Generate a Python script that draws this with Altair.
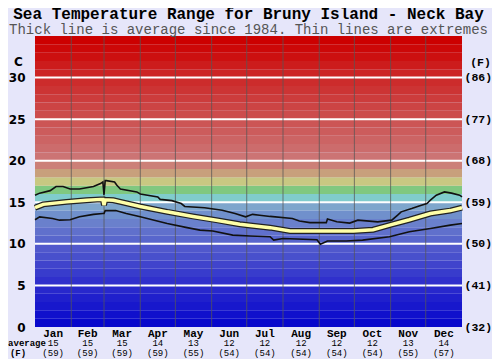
import altair as alt
import pandas as pd

# ---------------- data ----------------
months = ["Jan", "Feb", "Mar", "Apr", "May", "Jun", "Jul", "Aug", "Sep", "Oct", "Nov", "Dec"]
month_starts = [0, 31, 59, 90, 120, 151, 181, 212, 243, 273, 304, 334, 365]
avg_c_labels = ["15", "15", "15", "14", "13", "12", "12", "12", "12", "12", "13", "14"]
avg_f_labels = ["(59)", "(59)", "(59)", "(59)", "(55)", "(54)", "(54)", "(54)", "(54)", "(54)", "(55)", "(57)"]

max_day = [0, 4, 13, 18, 24, 30, 38, 50, 56, 58, 59, 60, 61, 68, 70, 73, 87, 90, 105, 107,
           117, 125, 128, 145, 160, 171, 180, 186, 192, 201, 220, 226, 235, 249, 250, 258,
           269, 276, 293, 305, 310, 313, 322, 327, 335, 338, 343, 350, 356, 363, 365]
max_temp = [15.85, 16.1, 16.4, 16.9, 16.9, 16.6, 16.6, 16.9, 17.25, 17.45, 15.9, 17.6, 17.6,
            17.45, 17.05, 16.6, 16.25, 16.0, 15.65, 15.35, 15.2, 14.85, 14.5, 14.35, 14.05,
            13.65, 13.25, 13.55, 13.45, 13.3, 13.05, 12.75, 12.55, 12.55, 13.0, 12.65, 12.5,
            12.85, 12.65, 12.85, 13.45, 13.85, 14.25, 14.5, 14.85, 15.25, 15.85, 16.25, 16.1,
            15.85, 15.65]

avg_day = [0, 7, 27, 44, 56, 58, 59, 60, 67, 73, 90, 113, 135, 155, 175, 184, 201, 218, 272,
           289, 303, 320, 338, 355, 365]
avg_temp = [14.35, 14.75, 15.05, 15.25, 15.35, 15.35, 14.65, 15.3, 15.25, 15.05, 14.5, 13.85,
            13.3, 12.85, 12.35, 12.2, 11.95, 11.55, 11.55, 11.7, 12.25, 12.9, 13.65, 14.0, 14.35]

min_day = [0, 4, 15, 21, 30, 38, 50, 58, 59, 60, 69, 78, 90, 113, 130, 141, 152, 169, 184, 201,
           204, 212, 241, 244, 250, 266, 280, 303, 320, 338, 355, 365]
min_temp = [12.9, 13.25, 13.05, 12.85, 12.9, 13.25, 13.55, 13.65, 13.65, 14.0, 14.0, 13.65,
            13.25, 12.45, 11.95, 11.65, 11.55, 11.05, 10.95, 10.85, 10.45, 10.65, 10.5, 9.95,
            10.35, 10.35, 10.45, 10.85, 11.45, 11.85, 12.25, 12.45]

band_colors = [
    "#0808cc", "#1010cc", "#1818cc", "#2020cc", "#2828cc", "#3030cc", "#383ccc", "#4044cc",
    "#4850cc", "#5058cc", "#5866cc", "#6070cc", "#6a80cc", "#7090cc", "#7ea6cc", "#80cccc",
    "#80c880", "#c8c882", "#c8a07c", "#cc8078", "#cc7474", "#cc6c6c", "#cc6464", "#cc5c5c",
    "#cc5555", "#cc4c4c", "#cc4444", "#cc3c3c", "#cc3434", "#cc2c2c", "#cc2424", "#cc1c1c",
    "#cc1010", "#cc0808", "#cc0000",
]
white_lines = [5, 10, 15, 20, 25, 30]
y_ticks = [0, 5, 10, 15, 20, 25, 30]

W, H = 427, 291
YMAX = 35

# ---------------- tables ----------------
bands = pd.DataFrame({
    "lo": list(range(len(band_colors))),
    "hi": [i + 1 for i in range(len(band_colors))],
    "col": band_colors,
    "x0": 0, "x1": 365,
})
whites = pd.DataFrame({"t": white_lines})
vlines = pd.DataFrame({"d": month_starts[1:-1]})
mid = [(month_starts[i] + month_starts[i + 1]) / 2 for i in range(12)]
labels = pd.DataFrame({"d": mid, "m": months, "c": avg_c_labels, "f": avg_f_labels})
df_max = pd.DataFrame({"d": max_day, "t": max_temp})
df_avg = pd.DataFrame({"d": avg_day, "t": avg_temp})
df_min = pd.DataFrame({"d": min_day, "t": min_temp})

xs = alt.Scale(domain=[0, 365], nice=False, zero=False)
ys = alt.Scale(domain=[0, YMAX], nice=False, zero=False)

left_axis = alt.Axis(values=y_ticks, ticks=False, domain=False, grid=False,
                     labelFont="DejaVu Sans", labelFontWeight="bold", labelFontSize=12,
                     labelColor="#000", labelPadding=10, title="C", titleAngle=0,
                     titleFont="DejaVu Sans", titleFontSize=12, titleFontWeight="bold",
                     titleX=-17, titleY=25, titleAlign="center", titleBaseline="middle")
right_axis = alt.Axis(orient="right", values=y_ticks, ticks=False, domain=False, grid=False,
                      labelExpr="'(' + round(datum.value * 9 / 5 + 32) + ')'",
                      labelFont="Liberation Mono", labelFontWeight="bold", labelFontSize=11.5,
                      labelColor="#000", labelPadding=2, title="(F)", titleAngle=0,
                      titleFont="Liberation Mono", titleFontSize=11.5, titleFontWeight="bold",
                      titleX=18, titleY=26, titleAlign="center", titleBaseline="middle")

band_layer = alt.Chart(bands).mark_rect().encode(
    x=alt.X("x0:Q", scale=xs, axis=None), x2="x1",
    y=alt.Y("lo:Q", scale=ys, axis=left_axis), y2="hi",
    color=alt.Color("col:N", scale=None),
)
white_layer = alt.Chart(whites).mark_rule(color="white", strokeWidth=2).encode(
    y=alt.Y("t:Q", scale=ys, axis=right_axis),
    x=alt.value(0), x2=alt.value(W),
)
vline_layer = alt.Chart(vlines).mark_rule(color="#555555", strokeWidth=1, opacity=0.75).encode(
    x=alt.X("d:Q", scale=xs, axis=None),
    y=alt.value(0), y2=alt.value(H),
)

def line(df, **kw):
    return alt.Chart(df).mark_line(**kw).encode(
        x=alt.X("d:Q", scale=xs, axis=None),
        y=alt.Y("t:Q", scale=ys, axis=None),
    )

max_layer = line(df_max, color="#111", strokeWidth=1.6)
min_layer = line(df_min, color="#111", strokeWidth=1.6)
avg_out = line(df_avg, color="#222", strokeWidth=6)
avg_in = line(df_avg, color="#ffffa8", strokeWidth=3.5)

month_txt = alt.Chart(labels).mark_text(
    fontSize=11, baseline="middle", font="Liberation Mono", fontWeight="bold", color="#000").encode(
    x=alt.X("d:Q", scale=xs, axis=None), y=alt.value(H + 6.5), text="m:N")
c_txt = alt.Chart(labels).mark_text(
    fontSize=9, baseline="middle", font="Liberation Mono", color="#000").encode(
    x=alt.X("d:Q", scale=xs, axis=None), y=alt.value(H + 16), text="c:N")
f_txt = alt.Chart(labels).mark_text(
    fontSize=9, baseline="middle", font="Liberation Mono", color="#000").encode(
    x=alt.X("d:Q", scale=xs, axis=None), y=alt.value(H + 25.5), text="f:N")
avg_word = alt.Chart(pd.DataFrame({"s": ["average"]})).mark_text(
    fontSize=9, baseline="middle", font="Liberation Mono", fontWeight="bold", color="#000").encode(
    x=alt.value(-8), y=alt.value(H + 16), text="s:N")
f_word = alt.Chart(pd.DataFrame({"s": ["(F)"]})).mark_text(
    fontSize=9, baseline="middle", font="Liberation Mono", fontWeight="bold", color="#000").encode(
    x=alt.value(-17), y=alt.value(H + 25.5), text="s:N")

chart = alt.layer(
    band_layer, white_layer, vline_layer, max_layer, min_layer, avg_out, avg_in,
    month_txt, c_txt, f_txt, avg_word, f_word,
).resolve_scale(y="independent").properties(
    width=W, height=H,
    autosize=alt.AutoSizeParams(type="none"),
    padding={"left": 27, "top": 28, "right": 30, "bottom": 32},
    background="#e6e6fa",
    title=alt.Title(
        text="Sea Temperature Range for Bruny Island - Neck Bay",
        subtitle="Thick line is average since 1984. Thin lines are extremes",
        font="Liberation Mono", fontSize=16, fontWeight="bold", color="#000",
        subtitleFont="Liberation Mono", subtitleFontSize=14, subtitleColor="#555",
        anchor="middle", frame="group", offset=-1, subtitlePadding=1,
    ),
).configure_view(stroke=None)

chart.save("out.html", embed_options={"renderer": "svg", "actions": False})
